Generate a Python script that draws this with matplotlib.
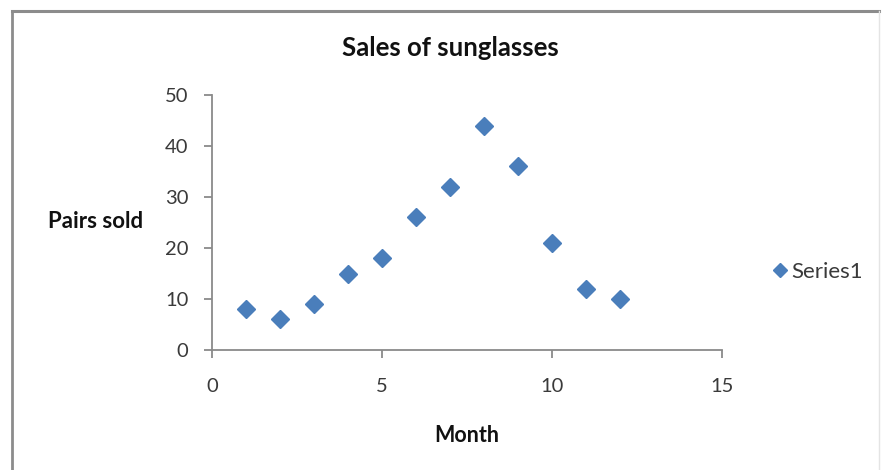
import matplotlib
matplotlib.use("Agg")
import matplotlib.pyplot as plt
from matplotlib.lines import Line2D

# Monthly sunglasses sales
months = [1, 2, 3, 4, 5, 6, 7, 8, 9, 10, 11, 12]
pairs_sold = [8, 6, 9, 15, 18, 26, 32, 44, 36, 21, 12, 10]
x_ticks = [0, 5, 10, 15]
y_ticks = [0, 10, 20, 30, 40, 50]

plt.rcParams["font.family"] = ["Lato", "DejaVu Sans"]

W, H = 882, 470
fig = plt.figure(figsize=(W / 100, H / 100), dpi=100)
fig.patch.set_facecolor("white")

def fx(px):
    return px / W

def fy(py):
    return 1 - py / H

# Chart-area frame (top and left edges, faint right edge)
frame = "#8c8c8c"
fig.add_artist(Line2D([fx(12), fx(879)], [fy(11), fy(11)], color=frame, lw=2.2, transform=fig.transFigure))
fig.add_artist(Line2D([fx(12), fx(12)], [fy(11), fy(470)], color=frame, lw=2.0, transform=fig.transFigure))
fig.add_artist(Line2D([fx(879), fx(879)], [fy(11), fy(470)], color="#e4e4e4", lw=1.0, transform=fig.transFigure))

ax = fig.add_axes([fx(212), fy(350), fx(722) - fx(212), fy(95) - fy(350)])
blue = "#4A7EBB"
ax.plot(months, pairs_sold, linestyle="none", marker="D", markersize=9.5,
        color=blue, markeredgecolor=blue, label="Series1", clip_on=False)

ax.set_xlim(0, 15)
ax.set_ylim(0, 50)
ax.set_xticks(x_ticks)
ax.set_yticks(y_ticks)

axis_col = "#8a8a8a"
for side in ("top", "right"):
    ax.spines[side].set_visible(False)
for side in ("left", "bottom"):
    ax.spines[side].set_color(axis_col)
    ax.spines[side].set_linewidth(1.3)

ax.tick_params(axis="both", direction="out", length=6, width=1.3, color=axis_col,
               labelsize=14.5, labelcolor="#3a3a3a")
ax.tick_params(axis="y", pad=11)
ax.tick_params(axis="x", pad=14)

fig.text(fx(450), fy(48), "Sales of sunglasses", ha="center", va="center",
         fontsize=18.5, fontweight="bold", color="#111111")
fig.text(fx(96), fy(222), "Pairs sold", ha="center", va="center",
         fontsize=16, fontweight="bold", color="#111111")
fig.text(fx(467), fy(436), "Month", ha="center", va="center",
         fontsize=15.5, fontweight="bold", color="#111111")

handles, labels = ax.get_legend_handles_labels()
leg = fig.legend(handles, labels, loc="center left", bbox_to_anchor=(fx(770), fy(272)),
                 frameon=False, fontsize=16, handletextpad=0.05, handlelength=0.9,
                 markerscale=0.7, labelcolor="#3a3a3a", borderaxespad=0, borderpad=0)

fig.savefig("out.png", dpi=100, facecolor="white")
